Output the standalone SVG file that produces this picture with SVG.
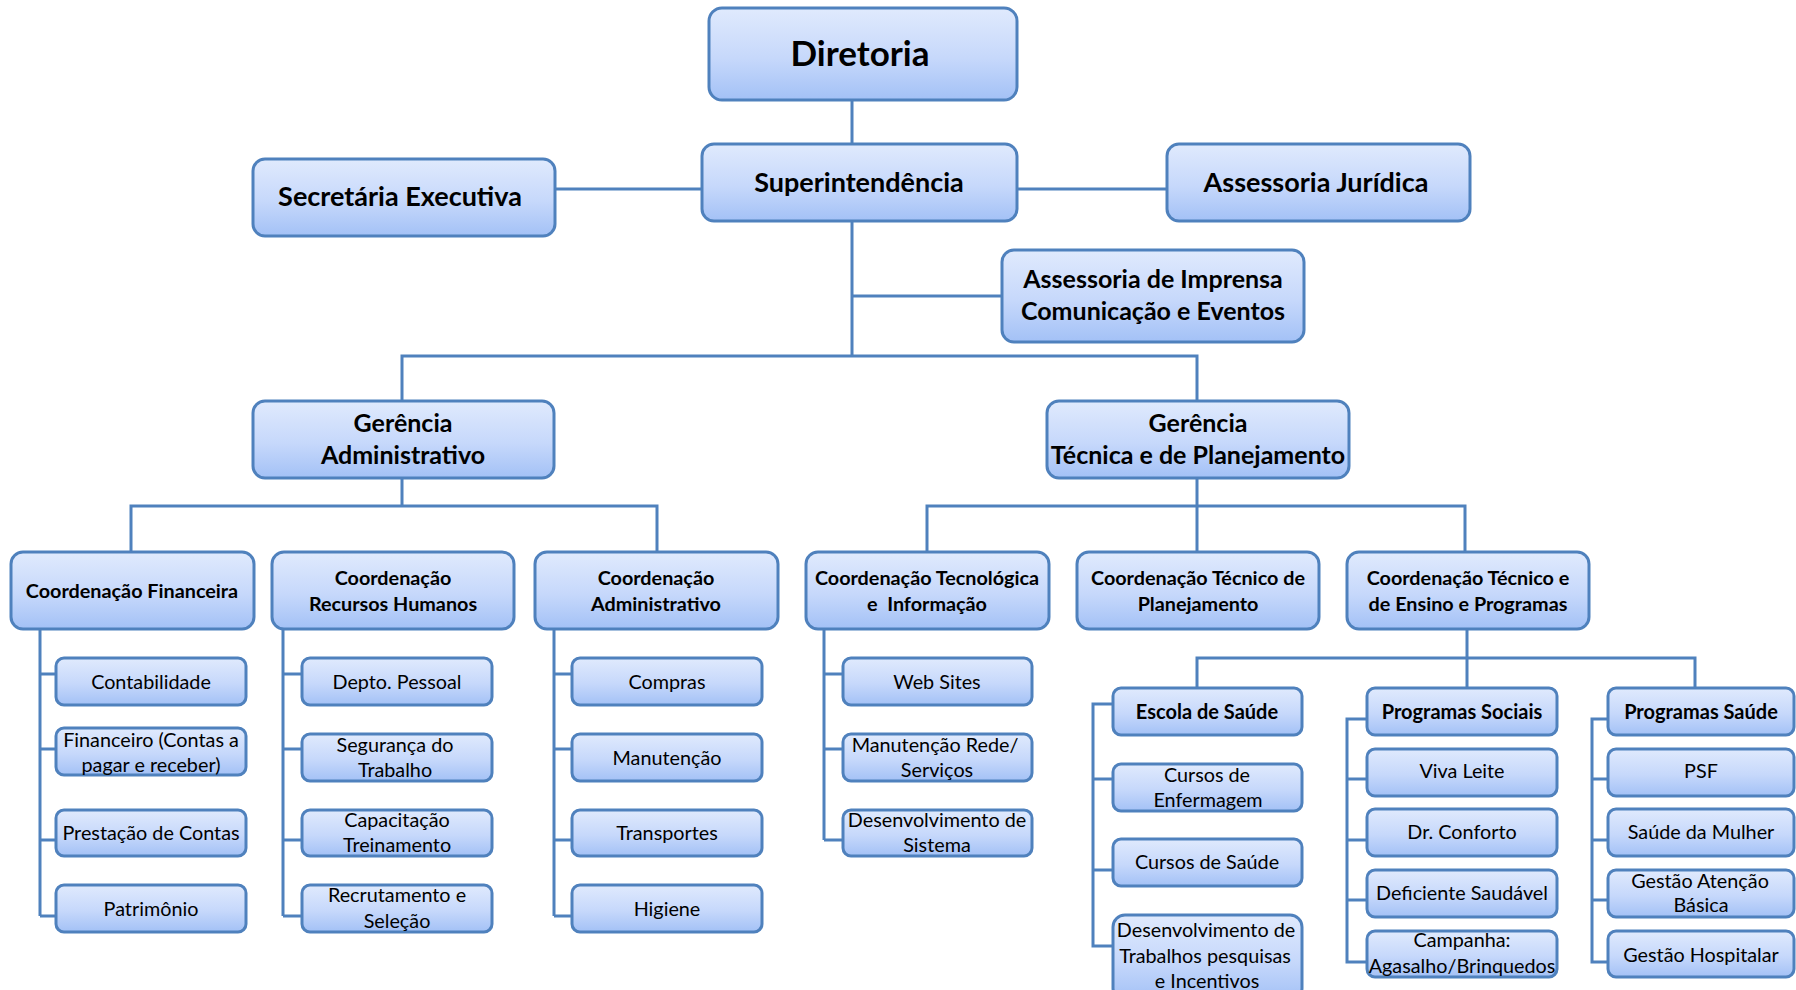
<svg xmlns="http://www.w3.org/2000/svg" width="1796" height="990" viewBox="0 0 1796 990">
<defs>
<linearGradient id="g" x1="0" y1="0" x2="0" y2="1">
<stop offset="0" stop-color="#e0eafd"/>
<stop offset="0.55" stop-color="#c6d8fb"/>
<stop offset="1" stop-color="#a3c1f6"/>
</linearGradient>
<style>
.b{fill:url(#g);stroke:#4f81bd;stroke-width:3}
.c{fill:none;stroke:#4f81bd;stroke-width:3}
text{font-family:Lato,"Open Sans","Liberation Sans",sans-serif;fill:#000;text-anchor:middle}
.t1{font-size:35px;font-weight:bold}
.t2{font-size:27px;font-weight:bold}
.t3{font-size:25px;font-weight:bold}
.t4{font-size:19.8px;font-weight:bold}
.t5{font-size:20px;font-weight:bold}
.t6{font-size:19.8px}
</style>
</defs>
<rect width="1796" height="990" fill="#fff"/>
<g id="connectors">
<path class="c" d="M852,100V144M555,189H702M1017,189H1167M852,221V356M852,296H1002M402,401V356H1197V401"/>
<path class="c" d="M402,478V506M131,552V506H657V552M1197,478V506M927,552V506H1465V552M1197,506V552"/>
<path class="c" d="M40,629V916M40,674H56M40,749H56M40,840H56M40,916H56"/>
<path class="c" d="M283,629V916M283,674H302M283,749H302M283,840H302M283,916H302"/>
<path class="c" d="M554,629V916M554,674H572M554,749H572M554,840H572M554,916H572"/>
<path class="c" d="M824,629V840M824,674H843M824,749H843M824,840H843"/>
<path class="c" d="M1467,629V688M1197,688V658H1695V688"/>
<path class="c" d="M1113,704H1093V946H1113M1093,779H1113M1093,870H1113"/>
<path class="c" d="M1367,719H1347V962H1367M1347,779H1367M1347,840H1367M1347,900H1367"/>
<path class="c" d="M1608,719H1592V962H1608M1592,779H1608M1592,840H1608M1592,900H1608"/>
</g>
<g id="diretoria"><rect class="b" x="709" y="8" width="308" height="92" rx="13"/><text class="t1" x="860" y="66">Diretoria</text></g>
<g id="superintendencia"><rect class="b" x="702" y="144" width="315" height="77" rx="12"/><text class="t2" x="859" y="192">Superintendência</text></g>
<g id="secretaria"><rect class="b" x="253" y="159" width="302" height="77" rx="12"/><text class="t2" x="400" y="206">Secretária Executiva</text></g>
<g id="juridica"><rect class="b" x="1167" y="144" width="303" height="77" rx="12"/><text class="t2" x="1316" y="192">Assessoria Jurídica</text></g>
<g id="imprensa"><rect class="b" x="1002" y="250" width="302" height="92" rx="12"/><text class="t3" x="1153" y="288">Assessoria de Imprensa</text><text class="t3" x="1153" y="320">Comunicação e Eventos</text></g>
<g id="ger-adm"><rect class="b" x="253" y="401" width="301" height="77" rx="12"/><text class="t3" x="403" y="432">Gerência</text><text class="t3" x="403" y="464">Administrativo</text></g>
<g id="ger-tec"><rect class="b" x="1047" y="401" width="302" height="77" rx="12"/><text class="t3" x="1198" y="432">Gerência</text><text class="t3" x="1198" y="464">Técnica e de Planejamento</text></g>

<g id="coord-fin"><rect class="b" x="11" y="552" width="243" height="77" rx="12"/><text class="t4" x="132" y="598">Coordenação Financeira</text></g>
<g id="coord-rh"><rect class="b" x="272" y="552" width="242" height="77" rx="12"/><text class="t4" x="393" y="585">Coordenação</text><text class="t4" x="393" y="611">Recursos Humanos</text></g>
<g id="coord-adm"><rect class="b" x="535" y="552" width="243" height="77" rx="12"/><text class="t4" x="656" y="585">Coordenação</text><text class="t4" x="656" y="611">Administrativo</text></g>
<g id="coord-tec"><rect class="b" x="806" y="552" width="243" height="77" rx="12"/><text class="t4" x="927" y="585">Coordenação Tecnológica</text><text class="t4" x="927" y="611" xml:space="preserve">e  Informação</text></g>
<g id="coord-plan"><rect class="b" x="1077" y="552" width="242" height="77" rx="12"/><text class="t4" x="1198" y="585">Coordenação Técnico de</text><text class="t4" x="1198" y="611">Planejamento</text></g>
<g id="coord-ensino"><rect class="b" x="1347" y="552" width="242" height="77" rx="12"/><text class="t4" x="1468" y="585">Coordenação Técnico e</text><text class="t4" x="1468" y="611">de Ensino e Programas</text></g>

<g id="contabilidade"><rect class="b" x="56" y="658" width="190" height="47" rx="8"/><text class="t6" x="151" y="689">Contabilidade</text></g>
<g id="financeiro"><rect class="b" x="56" y="728" width="190" height="47" rx="8"/><text class="t6" x="151" y="747">Financeiro (Contas a</text><text class="t6" x="151" y="772">pagar e receber)</text></g>
<g id="prestacao"><rect class="b" x="56" y="810" width="190" height="46" rx="8"/><text class="t6" x="151" y="840">Prestação de Contas</text></g>
<g id="patrimonio"><rect class="b" x="56" y="885" width="190" height="47" rx="8"/><text class="t6" x="151" y="916">Patrimônio</text></g>

<g id="depto"><rect class="b" x="302" y="658" width="190" height="47" rx="8"/><text class="t6" x="397" y="689">Depto. Pessoal</text></g>
<g id="seguranca"><rect class="b" x="302" y="734" width="190" height="47" rx="8"/><text class="t6" x="395" y="752">Segurança do</text><text class="t6" x="395" y="777">Trabalho</text></g>
<g id="capacitacao"><rect class="b" x="302" y="810" width="190" height="46" rx="8"/><text class="t6" x="397" y="827">Capacitação</text><text class="t6" x="397" y="852">Treinamento</text></g>
<g id="recrutamento"><rect class="b" x="302" y="885" width="190" height="47" rx="8"/><text class="t6" x="397" y="902">Recrutamento e</text><text class="t6" x="397" y="928">Seleção</text></g>

<g id="compras"><rect class="b" x="572" y="658" width="190" height="47" rx="8"/><text class="t6" x="667" y="689">Compras</text></g>
<g id="manutencao"><rect class="b" x="572" y="734" width="190" height="47" rx="8"/><text class="t6" x="667" y="765">Manutenção</text></g>
<g id="transportes"><rect class="b" x="572" y="810" width="190" height="46" rx="8"/><text class="t6" x="667" y="840">Transportes</text></g>
<g id="higiene"><rect class="b" x="572" y="885" width="190" height="47" rx="8"/><text class="t6" x="667" y="916">Higiene</text></g>

<g id="websites"><rect class="b" x="843" y="658" width="189" height="47" rx="8"/><text class="t6" x="937" y="689">Web Sites</text></g>
<g id="manut-rede"><rect class="b" x="843" y="734" width="189" height="47" rx="8"/><text class="t6" x="935" y="752">Manutenção Rede/</text><text class="t6" x="937" y="777">Serviços</text></g>
<g id="desenv-sistema"><rect class="b" x="843" y="810" width="189" height="46" rx="8"/><text class="t6" x="937" y="827">Desenvolvimento de</text><text class="t6" x="937" y="852">Sistema</text></g>

<g id="escola"><rect class="b" x="1113" y="688" width="189" height="47" rx="8"/><text class="t5" x="1207" y="719">Escola de Saúde</text></g>
<g id="enfermagem"><rect class="b" x="1113" y="764" width="189" height="47" rx="8"/><text class="t6" x="1207" y="782">Cursos de</text><text class="t6" x="1208" y="807">Enfermagem</text></g>
<g id="cursos-saude"><rect class="b" x="1113" y="839" width="189" height="47" rx="8"/><text class="t6" x="1207" y="869">Cursos de Saúde</text></g>
<g id="desenv-trab"><rect class="b" x="1113" y="915" width="189" height="85" rx="12"/><text class="t6" x="1206" y="937">Desenvolvimento de</text><text class="t6" x="1205" y="963">Trabalhos pesquisas</text><text class="t6" x="1207" y="988">e Incentivos</text></g>

<g id="prog-sociais"><rect class="b" x="1367" y="688" width="190" height="47" rx="8"/><text class="t5" x="1462" y="719">Programas Sociais</text></g>
<g id="viva-leite"><rect class="b" x="1367" y="749" width="190" height="47" rx="8"/><text class="t6" x="1462" y="778">Viva Leite</text></g>
<g id="dr-conforto"><rect class="b" x="1367" y="809" width="190" height="47" rx="8"/><text class="t6" x="1462" y="839">Dr. Conforto</text></g>
<g id="deficiente"><rect class="b" x="1367" y="870" width="190" height="47" rx="8"/><text class="t6" x="1462" y="900">Deficiente Saudável</text></g>
<g id="campanha"><rect class="b" x="1367" y="931" width="190" height="46" rx="8"/><text class="t6" x="1462" y="947">Campanha:</text><text class="t6" x="1462" y="973">Agasalho/Brinquedos</text></g>

<g id="prog-saude"><rect class="b" x="1608" y="688" width="186" height="47" rx="8"/><text class="t5" x="1701" y="719">Programas Saúde</text></g>
<g id="psf"><rect class="b" x="1608" y="749" width="186" height="47" rx="8"/><text class="t6" x="1701" y="778">PSF</text></g>
<g id="saude-mulher"><rect class="b" x="1608" y="809" width="186" height="47" rx="8"/><text class="t6" x="1701" y="839">Saúde da Mulher</text></g>
<g id="gestao-atencao"><rect class="b" x="1608" y="870" width="186" height="47" rx="8"/><text class="t6" x="1700" y="888">Gestão Atenção</text><text class="t6" x="1701" y="912">Básica</text></g>
<g id="gestao-hosp"><rect class="b" x="1608" y="931" width="186" height="46" rx="8"/><text class="t6" x="1701" y="962">Gestão Hospitalar</text></g>
</svg>
